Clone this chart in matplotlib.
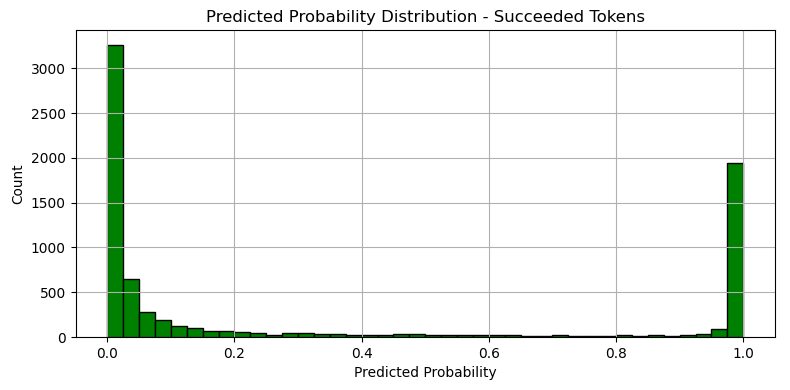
import matplotlib
matplotlib.use('Agg')
import matplotlib.pyplot as plt
import numpy as np

# histogram counts per bin (40 bins of width 0.025 over [0, 1])
bin_edges = np.linspace(0, 1, 41)
counts = [
    3260, 645, 275, 185, 117, 95, 72, 61, 60, 42,
    27, 42, 40, 30, 28, 20, 20, 20, 30, 28,
    20, 20, 20, 20, 20, 20, 10, 10, 22, 8,
    8, 8, 20, 8, 20, 8, 20, 30, 90, 1940,
]


def main():
    fig, ax = plt.subplots(figsize=(8, 3.95), dpi=98.75)
    ax.hist(bin_edges[:-1], bins=bin_edges, weights=counts,
            color="green", edgecolor="black")
    ax.set_title("Predicted Probability Distribution - Succeeded Tokens")
    ax.set_xlabel("Predicted Probability")
    ax.set_ylabel("Count")
    ax.grid(True)
    fig.subplots_adjust(left=0.0956, right=0.981, top=0.922, bottom=0.136)
    fig.savefig("out.png")


if __name__ == "__main__":
    main()
